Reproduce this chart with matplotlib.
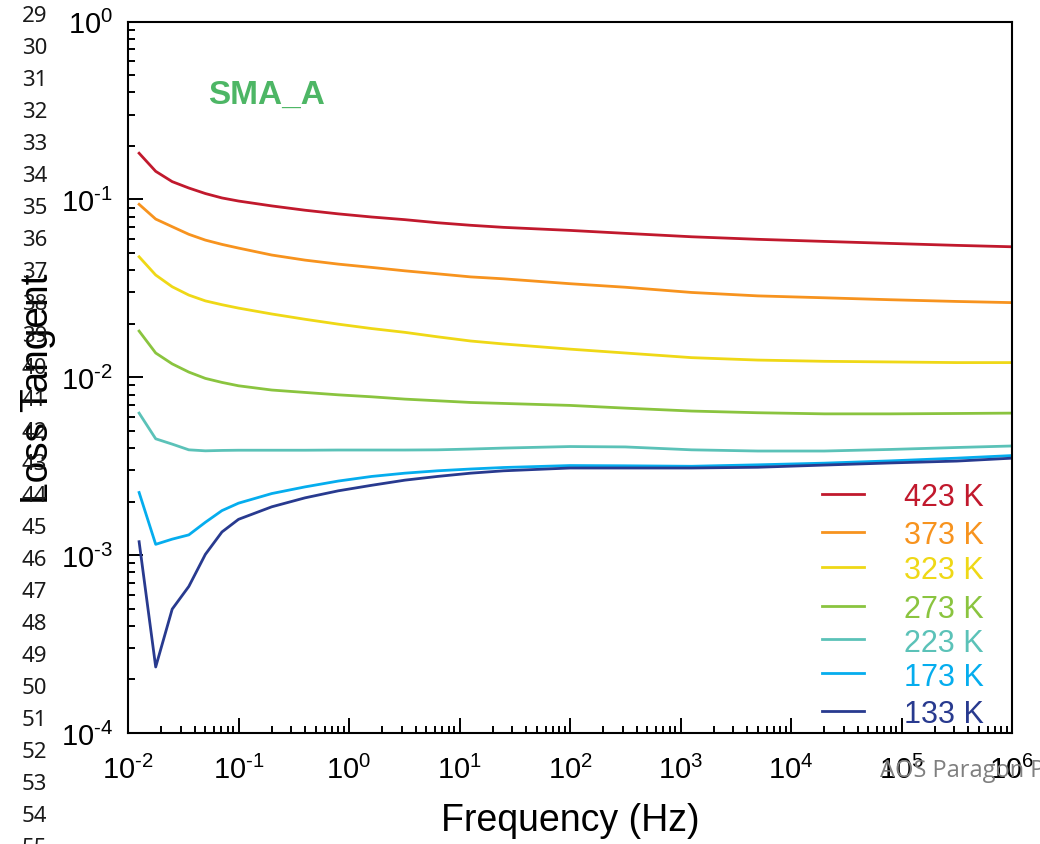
import matplotlib
matplotlib.use("Agg")
import matplotlib.pyplot as plt
from matplotlib.ticker import LogLocator, NullFormatter, FuncFormatter
import numpy as np

plt.rcParams["font.family"] = ["Liberation Sans", "DejaVu Sans"]
plt.rcParams["mathtext.fontset"] = "custom"
plt.rcParams["mathtext.rm"] = "Liberation Sans"
plt.rcParams["mathtext.it"] = "Liberation Sans:italic"
plt.rcParams["mathtext.bf"] = "Liberation Sans:bold"
plt.rcParams["axes.unicode_minus"] = False

# frequency sweep (Hz)
freq = [0.0126, 0.0178, 0.0251, 0.0355, 0.0501, 0.0708, 0.1, 0.2, 0.4, 0.8,
        1.6, 3.2, 6.3, 12.6, 25, 100, 316, 1260, 5000, 20000, 80000, 316000, 1000000]

# loss tangent per temperature
tan_423 = [0.182, 0.144, 0.126, 0.116, 0.108, 0.102, 0.098, 0.092, 0.087, 0.083,
           0.0797, 0.077, 0.074, 0.0716, 0.0697, 0.067, 0.0645, 0.0617, 0.0597, 0.0581,
           0.0566, 0.0552, 0.0542]
tan_373 = [0.0939, 0.0776, 0.0703, 0.0637, 0.0591, 0.0559, 0.0533, 0.0487, 0.0456, 0.0433,
           0.0415, 0.0397, 0.0382, 0.0367, 0.0358, 0.0336, 0.0321, 0.0300, 0.0287, 0.0280,
           0.0273, 0.0267, 0.0263]
tan_323 = [0.0476, 0.0376, 0.0323, 0.0290, 0.0269, 0.0256, 0.0245, 0.0227, 0.0212, 0.0199,
           0.0188, 0.0179, 0.0169, 0.0160, 0.0154, 0.0144, 0.0137, 0.0129, 0.0125, 0.0123,
           0.0122, 0.0121, 0.0121]
tan_273 = [0.0182, 0.0137, 0.0119, 0.0107, 0.00986, 0.00936, 0.00896, 0.00848, 0.00822, 0.00797,
           0.00777, 0.00754, 0.00738, 0.00722, 0.00713, 0.00695, 0.00671, 0.00646, 0.00632, 0.00623,
           0.00623, 0.00626, 0.00629]
tan_223 = [0.00629, 0.00451, 0.00421, 0.00391, 0.00386, 0.00388, 0.00389, 0.00389, 0.00389, 0.00390,
           0.00390, 0.00390, 0.00391, 0.00395, 0.00400, 0.00408, 0.00406, 0.00391, 0.00385, 0.00385,
           0.00393, 0.00403, 0.00411]
tan_173 = [0.00225, 0.00115, 0.00123, 0.00130, 0.00153, 0.00178, 0.00196, 0.00222, 0.00242, 0.00261,
           0.00277, 0.00289, 0.00298, 0.00305, 0.00311, 0.00319, 0.00318, 0.00316, 0.00322, 0.00329,
           0.00339, 0.00351, 0.00363]
tan_133 = [0.00119, 0.000235, 0.000497, 0.000667, 0.00101, 0.00135, 0.00159, 0.00187, 0.00210, 0.00230,
           0.00247, 0.00264, 0.00277, 0.00289, 0.00298, 0.00309, 0.00309, 0.00309, 0.00312, 0.00321,
           0.00330, 0.00338, 0.00351]

labels = ["423 K", "373 K", "323 K", "273 K", "223 K", "173 K", "133 K"]
series = [tan_423, tan_373, tan_323, tan_273, tan_223, tan_173, tan_133]
colors = ["#C1192D", "#F7931E", "#EFD816", "#8AC43F", "#5BC2B8", "#05ADEE", "#283A8F"]

# legend row heights (axes fraction), hand placed
legend_y = [0.336, 0.283, 0.234, 0.179, 0.132, 0.084, 0.031]

line_nums = list(range(29, 56))


def decade_label(v, pos):
    # plain hyphen in the exponent instead of the math minus
    e = int(round(np.log10(v)))
    exp = r"\text{-}%d" % -e if e < 0 else "%d" % e
    return r"$10^{%s}$" % exp


fig = plt.figure(figsize=(10.4, 8.45), dpi=100)
ax = fig.add_axes([0.1231, 0.1314, 0.85, 0.8418])

for y, c in zip(series, colors):
    ax.plot(freq, y, color=c, lw=2.0)

ax.set_xscale("log")
ax.set_yscale("log")
ax.set_xlim(1e-2, 1e6)
ax.set_ylim(1e-4, 1e0)

for ax_ in (ax.xaxis, ax.yaxis):
    ax_.set_major_locator(LogLocator(base=10, numticks=20))
    ax_.set_major_formatter(FuncFormatter(decade_label))
    ax_.set_minor_locator(LogLocator(base=10, subs=range(2, 10), numticks=100))
    ax_.set_minor_formatter(NullFormatter())

ax.tick_params(which="both", direction="in", top=False, right=False, width=1.4)
ax.tick_params(which="major", length=11, labelsize=21)
ax.tick_params(axis="x", which="major", pad=16)
ax.tick_params(axis="y", which="major", pad=11)
ax.tick_params(which="minor", length=5)
for s in ax.spines.values():
    s.set_linewidth(1.5)

ax.set_xlabel("Frequency (Hz)", fontsize=27)
ax.xaxis.set_label_coords(0.5, -0.097)
ax.set_ylabel("Loss Tangent", fontsize=28)
ax.yaxis.set_label_coords(-0.0815, 0.486)

ax.text(0.0905, 0.898, "SMA_A", transform=ax.transAxes, color="#4DB665",
        fontsize=24, fontweight="bold", va="center", ha="left")

# temperature key
for lab, c, ly in zip(labels, colors, legend_y):
    ax.plot([0.785, 0.833], [ly, ly], color=c, lw=2.0, transform=ax.transAxes)
    ax.text(0.878, ly, lab, color=c, fontsize=22, transform=ax.transAxes,
            va="center_baseline", ha="left")

# document line numbers down the left margin
for i, n in enumerate(line_nums):
    fig.text(0.021, 1 - (16.7 + 32.0 * i) / 845, str(n), fontsize=16,
             family="Noto Sans", color="#1a1a1a", va="center", ha="left")

fig.text(0.846, 0.0805, "AOS Paragon P", fontsize=17, family="Open Sans",
         color="#7f7f7f", va="baseline", ha="left")

fig.savefig("out.png", dpi=100)
